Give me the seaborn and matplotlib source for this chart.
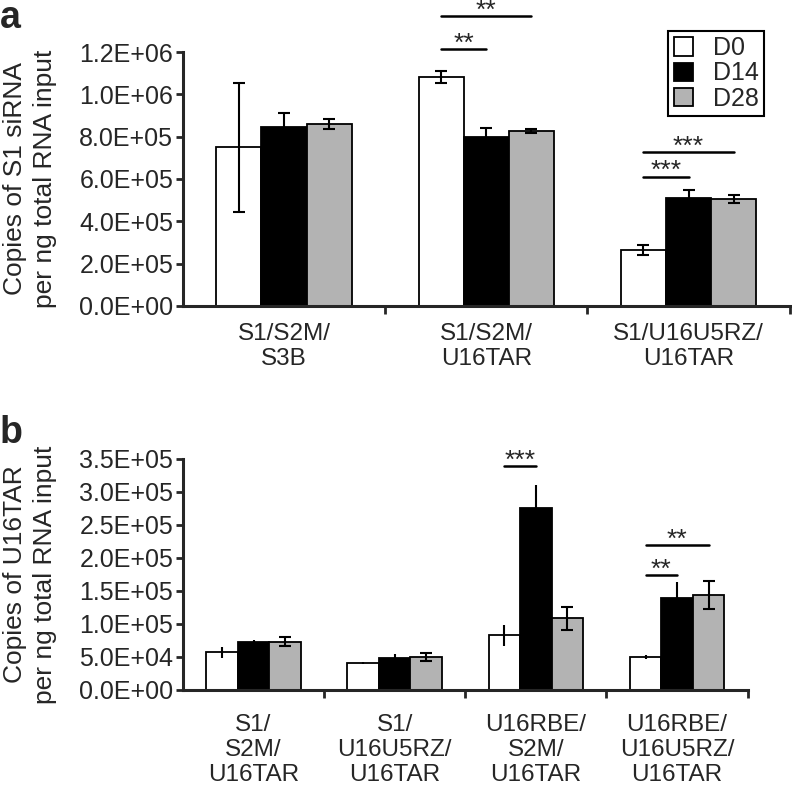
import pandas as pd
import matplotlib
matplotlib.use("Agg")
import matplotlib.pyplot as plt
from matplotlib.patches import Patch
from matplotlib.ticker import FixedLocator, FuncFormatter
import seaborn as sns

sns.set_style("ticks")
plt.rcParams['font.family'] = ['Liberation Sans', 'DejaVu Sans']

# ---------------- DATA ----------------
days = ["D0", "D14", "D28"]
colors = ["white", "black", "#b3b3b3"]

cats_a = ["S1/S2M/\nS3B", "S1/S2M/\nU16TAR", "S1/U16U5RZ/\nU16TAR"]
d0_a = [7.5e5, 1.082e6, 2.65e5]
d14_a = [8.45e5, 8.0e5, 5.1e5]
d28_a = [8.6e5, 8.25e5, 5.05e5]
d0_a_err = [3.05e5, 2.8e4, 2.2e4]
d14_a_err = [6.5e4, 4.3e4, 3.8e4]
d28_a_err = [2.2e4, 1.0e4, 1.9e4]

cats_b = ["S1/\nS2M/\nU16TAR", "S1/\nU16U5RZ/\nU16TAR",
          "U16RBE/\nS2M/\nU16TAR", "U16RBE/\nU16U5RZ/\nU16TAR"]
d0_b = [5.7e4, 4.1e4, 8.3e4, 5.0e4]
d14_b = [7.3e4, 4.8e4, 2.76e5, 1.40e5]
d28_b = [7.3e4, 5.0e4, 1.086e5, 1.44e5]
d0_b_err = [8e3, 1.5e3, 1.6e4, 3e3]
d14_b_err = [2.5e3, 6e3, 3.4e4, 2.4e4]
d28_b_err = [7e3, 6e3, 1.7e4, 2.1e4]

# significance: (category, from day, to day, height, label)
sig_a = [(1, 0, 1, 1.214e6, "**"), (1, 0, 2, 1.37e6, "**"),
         (2, 0, 1, 6.1e5, "***"), (2, 0, 2, 7.27e5, "***")]
sig_b = [(2, 0, 1, 3.39e5, "***"),
         (3, 0, 1, 1.74e5, "**"), (3, 0, 2, 2.19e5, "**")]


def make_df(cats, series):
    rows = []
    for day, vals in zip(days, series):
        for c, v in zip(cats, vals):
            rows.append({"group": c, "day": day, "value": v})
    return pd.DataFrame(rows)


def sci(v, pos):
    return "%.1E" % v


def draw_panel(ax, cats, series, errs, sigs, ymax, ystep, ylabel, caps, xpad):
    df = make_df(cats, series)
    sns.barplot(data=df, x="group", y="value", hue="day", hue_order=days,
                palette=colors, edgecolor="black", linewidth=1.3,
                width=0.67, errorbar=None, legend=False, ax=ax)

    # error bars on top of each bar
    for cont, err, cap in zip(ax.containers, errs, caps):
        xs = [p.get_x() + p.get_width() / 2 for p in cont.patches]
        hs = [p.get_height() for p in cont.patches]
        ax.errorbar(xs, hs, yerr=err, fmt="none", ecolor="black",
                    elinewidth=1.5, capsize=cap, capthick=1.5, zorder=5)

    # significance lines
    for cat, h0, h1, y, label in sigs:
        p0 = ax.containers[h0].patches[cat]
        p1 = ax.containers[h1].patches[cat]
        x0 = p0.get_x() + p0.get_width() / 2
        x1 = p1.get_x() + p1.get_width() / 2
        ax.plot([x0, x1], [y, y], color="black", lw=1.8, clip_on=False)
        ax.annotate(label, xy=((x0 + x1) / 2, y), xytext=(0, -1),
                    textcoords="offset points", ha="center", va="baseline",
                    fontsize=19, annotation_clip=False)

    ax.set_xlim(-0.5, len(cats) - 0.5)
    ax.set_ylim(0, ymax)
    ax.yaxis.set_major_locator(FixedLocator(
        [i * ystep for i in range(int(round(ymax / ystep)) + 1)]))
    ax.yaxis.set_major_formatter(FuncFormatter(sci))
    ax.set_xlabel("")
    ax.set_ylabel(ylabel, fontsize=19, labelpad=16, linespacing=1.3)

    ax.xaxis.set_minor_locator(FixedLocator([i + 0.5 for i in range(len(cats))]))
    ax.tick_params(axis="x", which="major", length=0, labelsize=17.5, pad=xpad)
    ax.tick_params(axis="x", which="minor", length=6, width=2)
    ax.tick_params(axis="y", length=5, width=2, labelsize=18, pad=2)
    for lbl in ax.get_xticklabels():
        lbl.set_linespacing(1.2)

    sns.despine(ax=ax)
    ax.spines["left"].set_linewidth(2.2)
    ax.spines["bottom"].set_linewidth(2.2)


fig = plt.figure(figsize=(7.92, 7.88), dpi=100)
ax_a = fig.add_axes([0.231, 0.6117, 0.766, 0.3223])
ax_b = fig.add_axes([0.231, 0.1244, 0.713, 0.2932])

draw_panel(ax_a, cats_a, [d0_a, d14_a, d28_a], [d0_a_err, d14_a_err, d28_a_err],
           sig_a, 1.2e6, 2e5, "Copies of S1 siRNA\nper ng total RNA input",
           [4, 4, 4], 12)
draw_panel(ax_b, cats_b, [d0_b, d14_b, d28_b], [d0_b_err, d14_b_err, d28_b_err],
           sig_b, 3.5e5, 5e4, "Copies of U16TAR\nper ng total RNA input",
           [0, 0, 4], 17)

handles = [Patch(facecolor=c, edgecolor="black", linewidth=1.3, label=d)
           for c, d in zip(colors, days)]
leg = fig.legend(handles=handles, loc="upper right",
                 bbox_to_anchor=(0.9646, 0.961), borderaxespad=0, fontsize=18,
                 handlelength=0.75, handleheight=0.75, handletextpad=0.8,
                 labelspacing=0.05, borderpad=0.22, fancybox=False,
                 framealpha=1, edgecolor="black")
leg.get_frame().set_linewidth(1.5)

fig.text(0.0, 1.0, "a", fontsize=27, fontweight="bold", va="top")
fig.text(0.0, 0.473, "b", fontsize=27, fontweight="bold", va="top")

fig.savefig("out.png", dpi=100)
